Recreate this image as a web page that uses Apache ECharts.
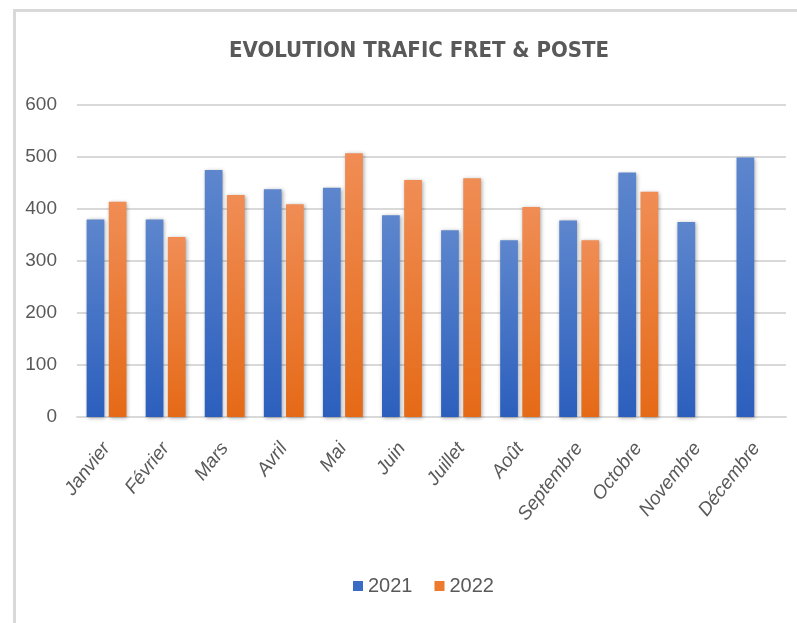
<!DOCTYPE html>
<html>
<head>
<meta charset="utf-8">
<script src="https://cdn.jsdelivr.net/npm/echarts@6/dist/echarts.min.js"></script>
<style>
	html, body { margin:0; padding:0; background:#fff; }
	#wrap { position:relative; width:797px; height:623px; overflow:hidden; }
	#frame { position:absolute; left:13px; top:9px; right:-10px; bottom:-10px; border-top:3px solid #d9d9d9; border-left:3px solid #d9d9d9; }
	#main { position:absolute; left:0; top:0; width:797px; height:623px; }
</style>
</head>
<body>
<div id="wrap">
	<div id="frame"></div>
	<div id="main"></div>
</div>
<script>
var months = ['Janvier','Février','Mars','Avril','Mai','Juin','Juillet','Août','Septembre','Octobre','Novembre','Décembre'];
var trafic2021 = [380, 380, 475, 438, 441, 388, 359, 340, 378, 470, 375, 499];
var trafic2022 = [414, 346, 427, 409, 507, 456, 459, 404, 340, 433, null, null];
var yTicks = { min: 0, max: 600, step: 100 };

var myChart = echarts.init(document.getElementById('main'));
var txt = '#595959';

function grad(top, bottom) {
	return new echarts.graphic.LinearGradient(0, 0, 0, 1, [
		{ offset: 0, color: top },
		{ offset: 1, color: bottom }
	]);
}

var blue = grad('#5d86cd', '#2c5fbd');
var orange = grad('#f08d55', '#e56a17');

var shadow = {
	shadowColor: 'rgba(0,0,0,0.35)',
	shadowBlur: 4,
	shadowOffsetX: 1,
	shadowOffsetY: 1
};

var option = {
	animation: false,
	title: {
		text: 'EVOLUTION TRAFIC FRET & POSTE',
		left: 224,
		top: 35,
		textStyle: {
			color: txt,
			fontSize: 22,
			fontWeight: 'bold',
			fontFamily: 'DejaVu Sans Condensed'
		}
	},
	color: ['#3a6cc6', '#ee7a2f'],
	legend: {
		bottom: 22,
		left: 348,
		itemWidth: 10,
		itemHeight: 10,
		itemGap: 22,
		icon: 'rect',
		textStyle: { color: txt, fontSize: 20, fontFamily: 'Liberation Sans' },
		data: [
			{ name: '2021', itemStyle: { color: '#3a6cc6' } },
			{ name: '2022', itemStyle: { color: '#ee7a2f' } }
		]
	},
	grid: {
		left: 77,
		right: 11,
		top: 105,
		bottom: 206
	},
	xAxis: {
		type: 'category',
		data: months,
		axisTick: { show: false },
		axisLine: { lineStyle: { color: '#d9d9d9', width: 2 } },
		axisLabel: {
			rotate: 52,
			interval: 0,
			margin: 28,
			color: txt,
			fontSize: 19,
			fontStyle: 'italic',
			fontFamily: 'Liberation Sans'
		}
	},
	yAxis: {
		type: 'value',
		min: yTicks.min,
		max: yTicks.max,
		interval: yTicks.step,
		axisLine: { show: false },
		axisTick: { show: false },
		axisLabel: {
			margin: 20,
			color: txt,
			fontSize: 19,
			fontFamily: 'Liberation Sans'
		},
		splitLine: { lineStyle: { color: '#d9d9d9', width: 2 } }
	},
	series: [
		{
			name: '2021',
			type: 'bar',
			barWidth: '30%',
			barGap: '25%',
			itemStyle: Object.assign({ color: blue }, shadow),
			data: trafic2021
		},
		{
			name: '2022',
			type: 'bar',
			barWidth: '30%',
			itemStyle: Object.assign({ color: orange }, shadow),
			data: trafic2022
		}
	]
};

myChart.setOption(option);
window.onresize = myChart.resize;
</script>
</body>
</html>
